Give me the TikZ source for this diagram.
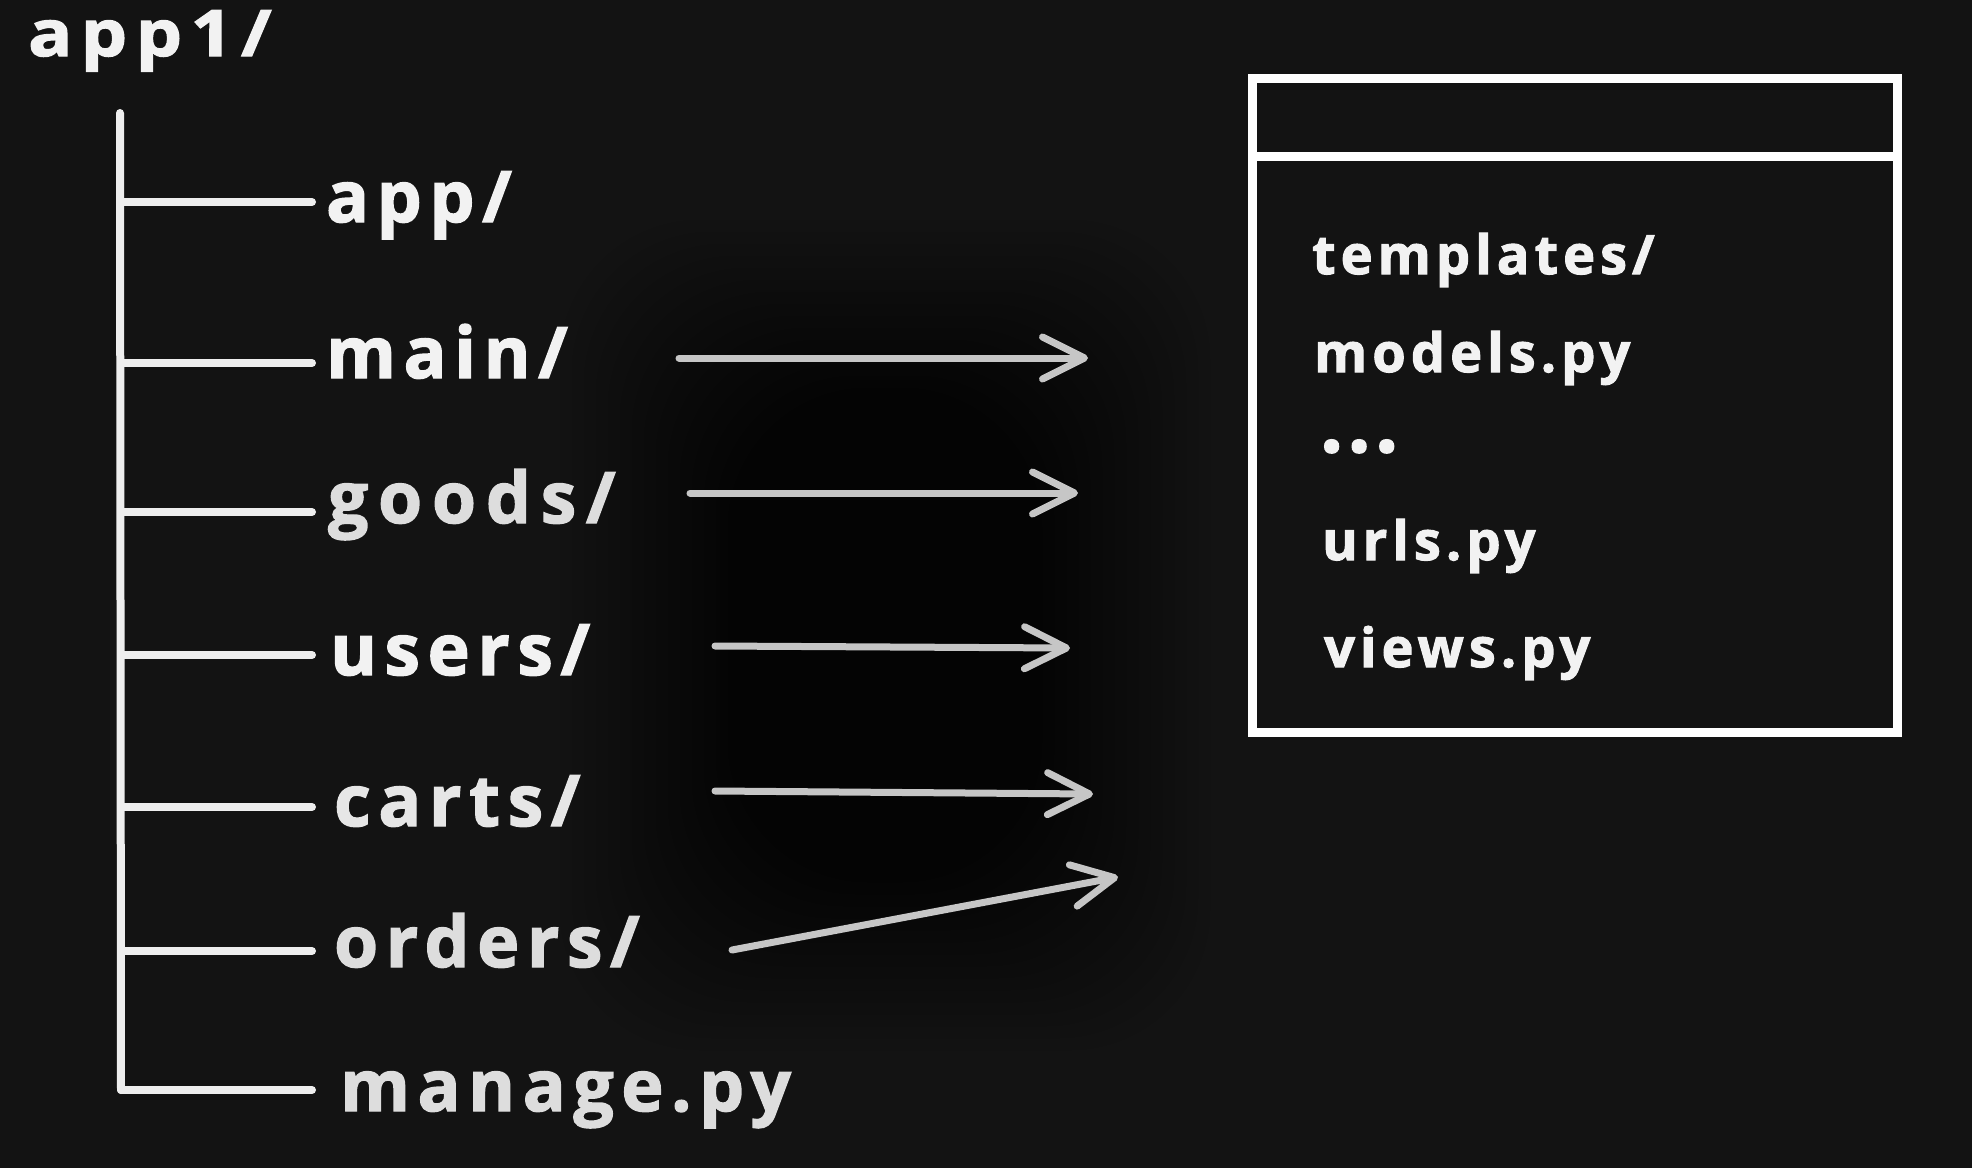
\documentclass[tikz,border=0pt]{standalone}
\usepackage{fontspec}
\setmainfont{Open Sans}
\newfontfamily\lblfont{Open Sans}[LetterSpace=11, FakeBold=2]
\newfontfamily\goodsfont{Open Sans}[LetterSpace=14, FakeBold=2]
\newfontfamily\rootfont{Open Sans}[LetterSpace=12, FakeBold=2]
\newfontfamily\boxfont{Open Sans}[LetterSpace=9.5, FakeBold=2]
\newfontfamily\dotfont{Open Sans}[LetterSpace=6, FakeBold=2]
\usetikzlibrary{arrows.meta}
\definecolor{bg}{HTML}{131313}
\definecolor{ink}{HTML}{F2F2F2}
\definecolor{inkdim}{HTML}{DDDDDD}
\definecolor{arr}{HTML}{C6C6C6}
\definecolor{treec}{HTML}{EEEEEE}
\begin{document}
\begin{tikzpicture}[x=1pt,y=-1pt,
  lbl/.style={anchor=base west, inner sep=0pt, text=ink,
    font=\fontsize{71}{80}\selectfont\lblfont\bfseries},
  rootlbl/.style={anchor=base west, inner sep=0pt, text=ink,
    font=\fontsize{64}{70}\selectfont\rootfont\bfseries},
  boxlbl/.style={anchor=base west, inner sep=0pt, text=ink,
    font=\fontsize{54}{60}\selectfont\boxfont\bfseries},
  dotlbl/.style={anchor=base west, inner sep=0pt, text=ink,
    font=\fontsize{80}{80}\selectfont\dotfont\bfseries},
  tree/.style={draw=treec, line width=8pt, line cap=round},
  conn/.style={draw=arr, line width=7pt, line cap=round,
    -{Straight Barb[length=42pt,width=42pt,line width=7pt,round]}},
  frame/.style={draw=white, line width=9pt},
  shadowlayer/.style={fill=black, opacity=0.028, rounded corners=140pt}
]
% background
\fill[bg] (0,0) rectangle (1972,1168);
\useasboundingbox (0,0) rectangle (1972,1168);
% soft dark halo behind the arrows
\foreach \d in {0,12,...,168} {
  \fill[shadowlayer] (560+\d,220+\d) rectangle (1210-\d,1050-\d);
}

% root and children labels
\node[rootlbl] (root) at (28,56) {\scalebox{1.14}[1]{app1/}};
\node[lbl] (app) at (326,222) {app/};
\node[lbl] (main) at (326,378) {main/};
\node[lbl, text=inkdim, font=\fontsize{71}{80}\selectfont\goodsfont\bfseries] (goods) at (328,523) {goods/};
\node[lbl] (users) at (330,675) {users/};
\node[lbl, text=ink!95!black] (carts) at (334,826) {carts/};
\node[lbl, text=inkdim] (orders) at (334,967) {orders/};
\node[lbl, text=inkdim] (manage) at (340,1111) {manage.py};

% tree lines
\coordinate (ttop) at (120,113);
\coordinate (tbot) at (121,1090);
\draw[tree] (ttop) -- (tbot);
\foreach \n/\y in {a/202,m/363,g/512,u/655,c/807,o/951,p/1090} {
  \coordinate (s\n) at (121,\y);
  \coordinate (e\n) at (312,\y);
  \draw[tree] (s\n) -- (e\n);
}

% arrows
\coordinate (a1s) at (679,358);  \coordinate (a1e) at (1088,358);
\coordinate (a2s) at (690,493);  \coordinate (a2e) at (1078,493);
\coordinate (a3s) at (715,646);  \coordinate (a3e) at (1070,648);
\coordinate (a4s) at (715,791);  \coordinate (a4e) at (1093,794);
\coordinate (a5s) at (732,950);  \coordinate (a5e) at (1118,877);
\draw[conn] (a1s) -- (a1e);
\draw[conn] (a2s) -- (a2e);
\draw[conn] (a3s) -- (a3e);
\draw[conn] (a4s) -- (a4e);
\draw[conn] (a5s) -- (a5e);

% app box
\coordinate (bxnw) at (1252,78);
\coordinate (bxse) at (1897,732);
\draw[frame] (bxnw) rectangle (bxse);
\coordinate (hdl) at (1252,156);
\coordinate (hdr) at (1897,156);
\draw[frame] (hdl) -- (hdr);

\node[boxlbl] (tpl) at (1312,274) {templates/};
\node[boxlbl] (mdl) at (1314,372) {models.py};
\node[dotlbl] (dots) at (1320,452) {...};
\node[boxlbl] (url) at (1322,560) {urls.py};
\node[boxlbl] (vws) at (1324,667) {views.py};
\end{tikzpicture}
\end{document}
